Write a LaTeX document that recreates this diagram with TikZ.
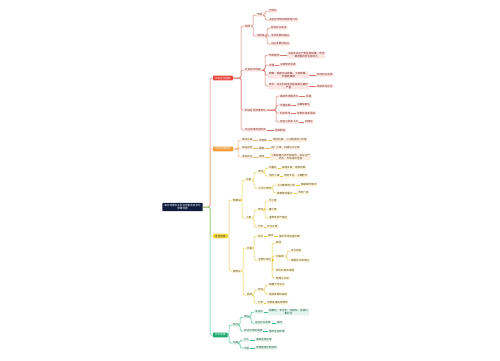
\documentclass[tikz,border=0pt]{standalone}
\usepackage{fontspec}
\newfontfamily\cjk{Noto Sans CJK SC}
\usetikzlibrary{calc}
\definecolor{navy}{HTML}{101B3D}
\definecolor{rmain}{HTML}{E8453C}
\definecolor{omain}{HTML}{F29C38}
\definecolor{ymain}{HTML}{F5D63D}
\definecolor{gmain}{HTML}{1FA971}
\definecolor{rline}{HTML}{D9756B}
\definecolor{oline}{HTML}{EFB36E}
\definecolor{yline}{HTML}{E6C93F}
\definecolor{gline}{HTML}{3DBB8C}
\definecolor{rbg}{HTML}{FDE6E3}
\definecolor{obg}{HTML}{FDF0E2}
\definecolor{ybg}{HTML}{FFF8DC}
\definecolor{gbg}{HTML}{E2F4EC}
\definecolor{rtx}{HTML}{7A2A22}
\definecolor{otx}{HTML}{6B4A1E}
\definecolor{ytx}{HTML}{5A4A10}
\definecolor{gtx}{HTML}{1D5A40}
\newcommand\mmfs{\cjk\fontsize{2.6}{3.1}\selectfont}
\newcommand\brk[3]{\draw[#1] (#2.east) -| ($(#3.west)+(-3,0)$) -- (#3.west);}
\newcommand\dsh[3]{\draw[#1] (#2.east) -- (#3.west);}
\tikzset{
  lnr/.style={rline,line width=0.5pt,rounded corners=1.5pt},
  lno/.style={oline,line width=0.5pt,rounded corners=1.5pt},
  lny/.style={yline,line width=0.5pt,rounded corners=1.5pt},
  lng/.style={gline,line width=0.5pt,rounded corners=1.5pt},
  rootn/.style={fill=navy,text=white,align=center,inner xsep=2pt,inner ysep=1.3pt,rounded corners=0.5pt},
  mainn/.style={anchor=west,inner xsep=2pt,inner ysep=1.2pt,rounded corners=0.5pt},
  lr/.style={anchor=west,fill=rbg,text=rtx,align=center},
  lo/.style={anchor=west,fill=obg,text=otx,align=center},
  ly/.style={anchor=west,fill=ybg,text=ytx,align=center},
  lg/.style={anchor=west,fill=gbg,text=gtx,align=center},
}
\begin{document}
\begin{tikzpicture}[x=1pt,y=-1pt,every node/.style={font=\mmfs,inner xsep=0.8pt,inner ysep=0.5pt,rounded corners=0.5pt}]
\fill[white] (0,0) rectangle (500,360);
\useasboundingbox (0,0) rectangle (500,360);
% root
\node[rootn] (R) at (182.5,207) {高中地理农业区位因素及其变化\\思维导图};
% level 1
\node[mainn,fill=rmain,text=white] (A) at (213,78) {农业区位因素};
\node[mainn,fill=omain,text=white] (B) at (213,149) {农业地域类型};
\node[mainn,fill=ymain,text=black!80] (C) at (213,236) {区位选择};
\node[mainn,fill=gmain,text=white] (D) at (213,335) {农业发展};
% ---------------- red branch
\node[lr] (A1) at (244,26) {自然};
\node[lr] (A1a) at (256,15) {气候};
\node[lr] (A1a1) at (268,11) {光热水};
\node[lr] (A1a2) at (268,20) {决定农作物的种类和分布};
\node[lr] (A1b) at (256,36) {地形等};
\node[lr] (A1b1) at (270,28) {影响农业类型};
\node[lr] (A1b2) at (270,36) {平原发展种植业};
\node[lr] (A1b3) at (270,44) {山区发展林牧业};
\node[lr] (A2) at (244,70) {社会经济因素};
\node[lr] (A2a) at (268,55) {市场需求};
\node[lr] (A2ax) at (287,55) {决定农业生产类型和规模，市场\\需求量的变化影响大};
\node[lr] (A2b) at (268,65) {交通};
\node[lr] (A2bx) at (279,65) {冷链物流发展};
\node[lr] (A2c) at (268,75) {政策：国家农业政策、土地政策、\\价格政策等};
\node[lr] (A2cx) at (316,75) {影响农业发展};
\node[lr] (A2d) at (268,86) {技术：农业科技进步提高单位面积\\产量};
\node[lr] (A2dx) at (316,86) {改变农业区位};
\node[lr] (A3) at (244,110) {农业区位因素变化};
\node[lr] (A3a) at (279,96) {城郊市场需求大};
\node[lr] (A3ax) at (305,96) {乳畜};
\node[lr] (A3b) at (279,105) {交通运输};
\node[lr] (A3bx) at (296,105) {冷藏保鲜化};
\node[lr] (A3c) at (279,113) {科学技术};
\node[lr] (A3cx) at (296,113) {培育优良新品种};
\node[lr] (A3d) at (279,122) {劳动力成本上升};
\node[lr] (A3dx) at (304,122) {机械化};
\node[lr] (A4) at (244,130) {农业地域类型形成};
\node[lr] (A4x) at (274,130) {因地制宜};
% ---------------- orange branch
\node[lo] (B1) at (241,140) {季风水田};
\node[lo] (B1x) at (258,140) {东南亚};
\node[lo] (B1y) at (272,140) {雨热同期，人口稠密劳力丰富};
\node[lo] (B2) at (241,148) {商品谷物};
\node[lo] (B2x) at (258,148) {美国};
\node[lo] (B2y) at (270,148) {地广人稀，机械化水平高};
\node[lo] (B3) at (241,157) {混合农业};
\node[lo] (B3x) at (258,157) {澳洲};
\node[lo] (B3y) at (270,157) {小麦种植与养羊相结合，农业生产\\灵活，市场适应性强};
% ---------------- yellow branch
\node[ly] (C1) at (232,200) {种植业};
\node[ly] (C1a) at (245,180) {水稻};
\node[ly] (C1a1) at (257,172) {条件};
\node[ly] (C1a1a) at (268,168) {热量足};
\node[ly] (C1a1ax) at (281,168) {高温多雨，雨热同期};
\node[ly] (C1a1b) at (268,176) {地形土壤};
\node[ly] (C1a1bx) at (283,176) {地势平坦，土壤肥沃};
\node[ly] (C1a2) at (257,188) {人口与市场};
\node[ly] (C1a2a) at (276,185) {人口稠密劳力多};
\node[ly] (C1a2ax) at (300,185) {精耕细作需求};
\node[ly] (C1a2b) at (276,193) {粮食需求量大};
\node[ly] (C1a2bx) at (297,193) {市场广阔};
\node[ly] (C1b) at (245,218) {小麦};
\node[ly] (C1b1) at (257,210) {条件};
\node[ly] (C1b1a) at (268,201) {冬小麦};
\node[ly] (C1b1b) at (268,210) {春小麦};
\node[ly] (C1b1c) at (268,218) {温带季风气候区};
\node[ly] (C1b2) at (257,227) {分布};
\node[ly] (C1b2x) at (266,227) {华北平原};
\node[ly] (C2) at (232,271) {畜牧业};
\node[ly] (C2a) at (246,248) {乳畜};
\node[ly] (C2a1) at (257,236) {区位};
\node[ly] (C2a1x) at (267,236) {城郊};
\node[ly] (C2a1y) at (278,236) {接近市场运输方便};
\node[ly] (C2a2) at (257,260) {主要分布区};
\node[ly] (C2a2a) at (275,243) {欧洲};
\node[ly] (C2a2b) at (275,256) {北美洲};
\node[ly] (C2a2b1) at (290,251) {五大湖区};
\node[ly] (C2a2b2) at (290,260) {美国东北部地区};
\node[ly] (C2a2c) at (275,270) {澳大利亚东南部};
\node[ly] (C2a2d) at (275,278) {新西兰北岛};
\node[ly] (C2b) at (246,295) {牧场};
\node[ly] (C2b1) at (257,290) {特点};
\node[ly] (C2b1a) at (268,285) {规模大专业化};
\node[ly] (C2b1b) at (268,294) {商品率高机械化};
\node[ly] (C2b2) at (257,303) {分布};
\node[ly] (C2b2x) at (266,303) {阿根廷潘帕斯草原};
% ---------------- green branch
\node[lg] (D1) at (232,325) {现代};
\node[lg] (D1a) at (243,317) {特征};
\node[lg] (D1a1) at (254,312) {专业化};
\node[lg] (D1a1x) at (268,312) {规模化、专业化、机械化、信息化\\集约化};
\node[lg] (D1a2) at (254,323) {生态农业发展};
\node[lg] (D1a2x) at (276,323) {循环};
\node[lg] (D1b) at (243,331) {农业可持续发展};
\node[lg] (D1bx) at (268,331) {保护生态环境};
\node[lg] (D2) at (232,343) {问题};
\node[lg] (D2a) at (243,340) {水土};
\node[lg] (D2ax) at (255,340) {退耕还林还草};
\node[lg] (D2b) at (243,348) {污染};
\node[lg] (D2bx) at (255,348) {合理使用化肥农药};
% ---------------- connectors
\brk{lnr}{R}{A}
\brk{lno}{R}{B}
\brk{lny}{R}{C}
\brk{lng}{R}{D}
% red
\brk{lnr}{A}{A1} \brk{lnr}{A}{A2} \brk{lnr}{A}{A3} \brk{lnr}{A}{A4}
\brk{lnr}{A1}{A1a} \brk{lnr}{A1}{A1b}
\brk{lnr}{A1a}{A1a1} \brk{lnr}{A1a}{A1a2}
\brk{lnr}{A1b}{A1b1} \brk{lnr}{A1b}{A1b2} \brk{lnr}{A1b}{A1b3}
\brk{lnr}{A2}{A2a} \brk{lnr}{A2}{A2b} \brk{lnr}{A2}{A2c} \brk{lnr}{A2}{A2d}
\dsh{lnr}{A2a}{A2ax} \dsh{lnr}{A2b}{A2bx} \dsh{lnr}{A2c}{A2cx} \dsh{lnr}{A2d}{A2dx}
\brk{lnr}{A3}{A3a} \brk{lnr}{A3}{A3b} \brk{lnr}{A3}{A3c} \brk{lnr}{A3}{A3d}
\dsh{lnr}{A3a}{A3ax} \dsh{lnr}{A3b}{A3bx} \dsh{lnr}{A3c}{A3cx} \dsh{lnr}{A3d}{A3dx}
\dsh{lnr}{A4}{A4x}
% orange
\brk{lno}{B}{B1} \brk{lno}{B}{B2} \brk{lno}{B}{B3}
\dsh{lno}{B1}{B1x} \dsh{lno}{B1x}{B1y}
\dsh{lno}{B2}{B2x} \dsh{lno}{B2x}{B2y}
\dsh{lno}{B3}{B3x} \dsh{lno}{B3x}{B3y}
% yellow
\brk{lny}{C}{C1} \brk{lny}{C}{C2}
\brk{lny}{C1}{C1a} \brk{lny}{C1}{C1b}
\brk{lny}{C1a}{C1a1} \brk{lny}{C1a}{C1a2}
\brk{lny}{C1a1}{C1a1a} \brk{lny}{C1a1}{C1a1b}
\dsh{lny}{C1a1a}{C1a1ax} \dsh{lny}{C1a1b}{C1a1bx}
\brk{lny}{C1a2}{C1a2a} \brk{lny}{C1a2}{C1a2b}
\dsh{lny}{C1a2a}{C1a2ax} \dsh{lny}{C1a2b}{C1a2bx}
\brk{lny}{C1b}{C1b1} \brk{lny}{C1b}{C1b2}
\brk{lny}{C1b1}{C1b1a} \brk{lny}{C1b1}{C1b1b} \brk{lny}{C1b1}{C1b1c}
\dsh{lny}{C1b2}{C1b2x}
\brk{lny}{C2}{C2a} \brk{lny}{C2}{C2b}
\brk{lny}{C2a}{C2a1} \brk{lny}{C2a}{C2a2}
\dsh{lny}{C2a1}{C2a1x} \dsh{lny}{C2a1x}{C2a1y}
\brk{lny}{C2a2}{C2a2a} \brk{lny}{C2a2}{C2a2b} \brk{lny}{C2a2}{C2a2c} \brk{lny}{C2a2}{C2a2d}
\brk{lny}{C2a2b}{C2a2b1} \brk{lny}{C2a2b}{C2a2b2}
\brk{lny}{C2b}{C2b1} \brk{lny}{C2b}{C2b2}
\brk{lny}{C2b1}{C2b1a} \brk{lny}{C2b1}{C2b1b}
\dsh{lny}{C2b2}{C2b2x}
% green
\brk{lng}{D}{D1} \brk{lng}{D}{D2}
\brk{lng}{D1}{D1a} \brk{lng}{D1}{D1b}
\brk{lng}{D1a}{D1a1} \brk{lng}{D1a}{D1a2}
\dsh{lng}{D1a1}{D1a1x} \dsh{lng}{D1a2}{D1a2x}
\dsh{lng}{D1b}{D1bx}
\brk{lng}{D2}{D2a} \brk{lng}{D2}{D2b}
\dsh{lng}{D2a}{D2ax} \dsh{lng}{D2b}{D2bx}
\end{tikzpicture}
\end{document}
